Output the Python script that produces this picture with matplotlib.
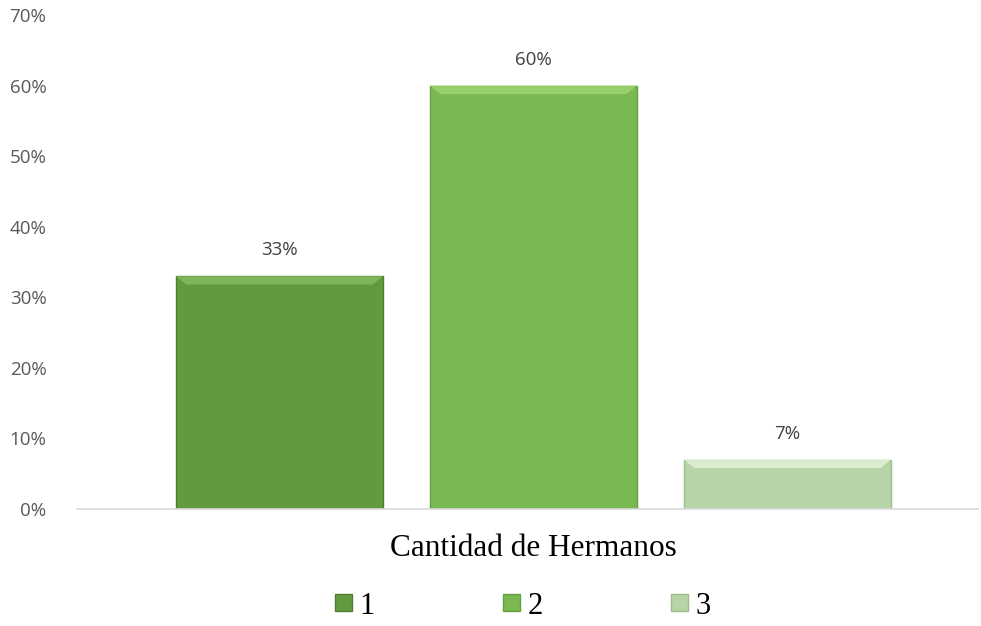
import matplotlib.pyplot as plt
import matplotlib.ticker as mtick
from matplotlib.patches import Polygon

series = ["1", "2", "3"]
values = [0.33, 0.60, 0.07]
labels = ["33%", "60%", "7%"]
colors = ["#629a3f", "#7ab852", "#b6d4a6"]
edge_colors = ["#4e7d32", "#64a03f", "#9dbd8c"]
light_colors = ["#86bb62", "#9fd873", "#e6f3dd"]

fig = plt.figure(figsize=(9.81, 6.26), dpi=100)
ax = fig.add_axes([77 / 981, (626 - 509) / 626, (978 - 77) / 981, (509 - 15) / 626])

x = list(range(len(series)))
width = 0.815
bars = ax.bar(x, values, width=width, color=colors, edgecolor=edge_colors,
              linewidth=1.0, label=series, zorder=2)

# soft bevel on top of each bar (derived from bar geometry)
for b, lc in zip(bars, light_colors):
    x0, y0 = b.get_x(), b.get_y()
    w, h = b.get_width(), b.get_height()
    bv = min(0.012, h * 0.25)
    bx = w * 0.05
    top = Polygon([[x0, y0 + h], [x0 + w, y0 + h], [x0 + w - bx, y0 + h - bv],
                   [x0 + bx, y0 + h - bv]], closed=True, color=lc, alpha=0.8,
                  lw=0, zorder=3)
    ax.add_patch(top)

for b, t in zip(bars, labels):
    ax.annotate(t, (b.get_x() + b.get_width() / 2, b.get_height()),
                xytext=(0, 12), textcoords="offset points", ha="center",
                va="bottom", fontsize=13.5, color="#404040", family="Open Sans")

ax.set_ylim(0, 0.7)
ax.set_xlim(-0.797, 2.75)
ax.set_yticks([i / 10 for i in range(8)])
ax.yaxis.set_major_formatter(mtick.FuncFormatter(lambda v, p: f"{round(v * 100)}%"))
ax.set_xticks([])
for s in ["top", "right", "left"]:
    ax.spines[s].set_visible(False)
ax.spines["bottom"].set_color("#d9d9d9")
ax.spines["bottom"].set_linewidth(1.2)
ax.tick_params(axis="y", length=0, pad=22, labelsize=13.5, labelcolor="#595959")
for t in ax.get_yticklabels():
    t.set_family("Open Sans")

fig.text(533 / 981, 1 - 549 / 626, "Cantidad de Hermanos", ha="center", va="center",
         fontsize=22.5, family="Liberation Serif", color="#000000")

fig.legend(handles=bars, labels=series, loc="center", bbox_to_anchor=(523 / 981, 1 - 606 / 626),
           ncol=3, frameon=False, prop={"family": "Liberation Serif", "size": 22},
           handlelength=0.55, handleheight=0.5, handletextpad=0.25, columnspacing=4.2,
           borderpad=0)

plt.savefig("out.png", dpi=100)
